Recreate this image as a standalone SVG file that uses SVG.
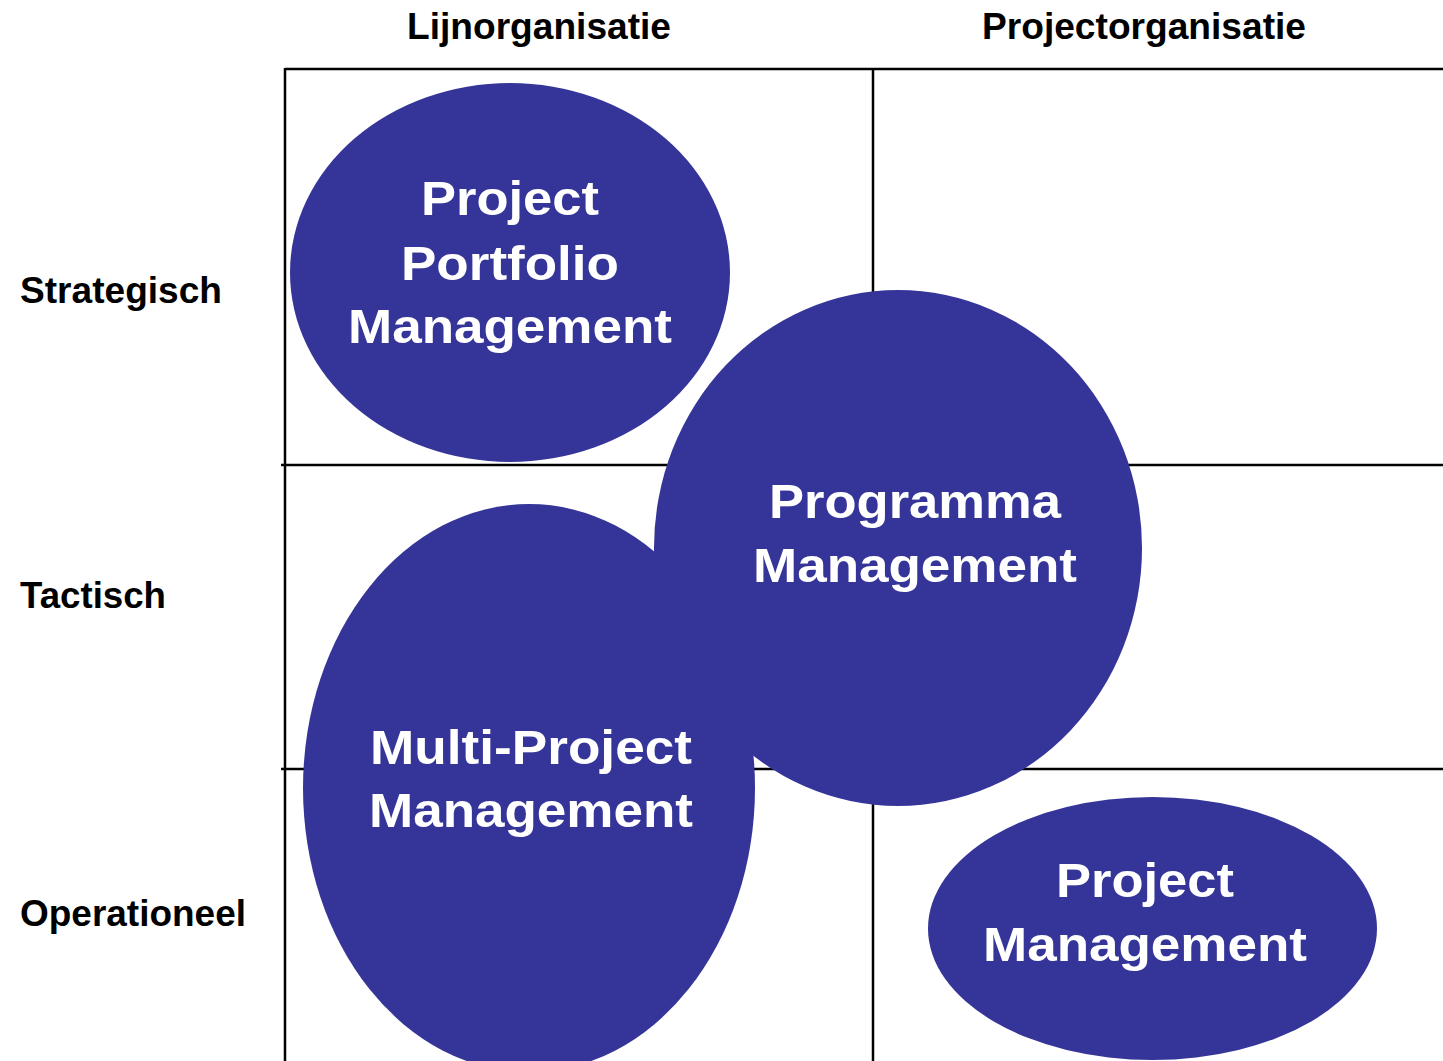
<svg xmlns="http://www.w3.org/2000/svg" width="1443" height="1061" viewBox="0 0 1443 1061">
<style>
.grid{stroke:#000;stroke-width:2.5;fill:none}
.blob{fill:#353599}
.hdr{font-family:"Liberation Sans",Arial,sans-serif;font-weight:bold;font-size:37px;fill:#000}
.lbl{font-family:"Liberation Sans",Arial,sans-serif;font-weight:bold;font-size:49px;fill:#fff;text-anchor:middle}
</style>
<rect width="1443" height="1061" fill="#fff"/>
<g id="connectors">
<line class="grid" x1="285" y1="69" x2="1443" y2="69"/>
<line class="grid" x1="285" y1="68" x2="285" y2="1061"/>
<line class="grid" x1="873" y1="69" x2="873" y2="1061"/>
<line class="grid" x1="281" y1="465" x2="1443" y2="465"/>
<line class="grid" x1="281" y1="769" x2="1443" y2="769"/>
</g>
<g id="headers">
<text class="hdr" x="407" y="39" textLength="264" lengthAdjust="spacingAndGlyphs">Lijnorganisatie</text>
<text class="hdr" x="982" y="39" textLength="324" lengthAdjust="spacingAndGlyphs">Projectorganisatie</text>
<text class="hdr" x="20" y="303" textLength="202" lengthAdjust="spacingAndGlyphs">Strategisch</text>
<text class="hdr" x="20" y="608" textLength="146" lengthAdjust="spacingAndGlyphs">Tactisch</text>
<text class="hdr" x="20" y="926" textLength="226" lengthAdjust="spacingAndGlyphs">Operationeel</text>
</g>
<g id="ppm">
<ellipse class="blob" cx="510" cy="272.5" rx="220" ry="189.5"/>
<text class="lbl" x="510" y="215" textLength="178" lengthAdjust="spacingAndGlyphs">Project</text>
<text class="lbl" x="510" y="280" textLength="218" lengthAdjust="spacingAndGlyphs">Portfolio</text>
<text class="lbl" x="510" y="343" textLength="324" lengthAdjust="spacingAndGlyphs">Management</text>
</g>
<g id="multi">
<ellipse class="blob" cx="529" cy="788" rx="226" ry="284"/>
<text class="lbl" x="531" y="764" textLength="322" lengthAdjust="spacingAndGlyphs">Multi-Project</text>
<text class="lbl" x="531" y="827" textLength="324" lengthAdjust="spacingAndGlyphs">Management</text>
</g>
<g id="programma">
<ellipse class="blob" cx="898" cy="548" rx="244" ry="258"/>
<text class="lbl" x="915" y="518" textLength="292" lengthAdjust="spacingAndGlyphs">Programma</text>
<text class="lbl" x="915" y="582" textLength="324" lengthAdjust="spacingAndGlyphs">Management</text>
</g>
<g id="pm">
<ellipse class="blob" cx="1152.5" cy="928.5" rx="224.5" ry="131.5"/>
<text class="lbl" x="1145" y="897" textLength="178" lengthAdjust="spacingAndGlyphs">Project</text>
<text class="lbl" x="1145" y="961" textLength="324" lengthAdjust="spacingAndGlyphs">Management</text>
</g>
</svg>
